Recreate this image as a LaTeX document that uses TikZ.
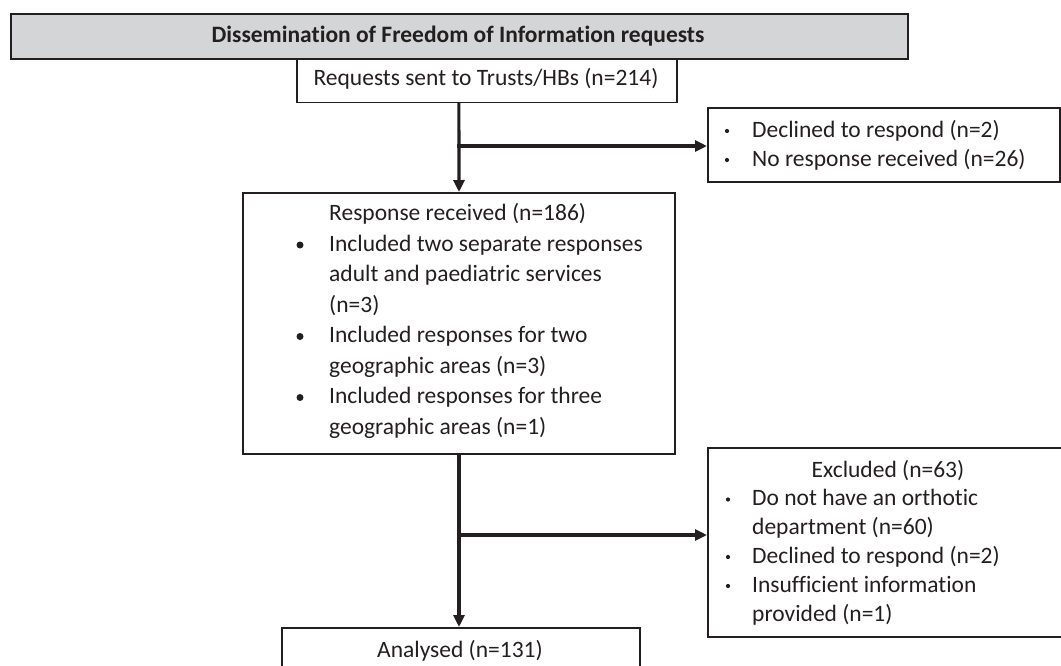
\documentclass[tikz,border=0pt]{standalone}
\usepackage{fontspec}
\setmainfont{Carlito}[Ligatures=NoCommon]
\usetikzlibrary{arrows.meta}
\definecolor{ink}{HTML}{231F20}
\definecolor{hdr}{HTML}{D4D5D6}
\tikzset{
  box/.style={draw=ink, line width=1.7pt, inner sep=0pt, anchor=north west},
  txt/.style={inner sep=0pt, anchor=mid west, text=ink, font=\fontsize{23.5}{28}\selectfont},
  ctxt/.style={inner sep=0pt, anchor=mid, text=ink, font=\fontsize{23.5}{28}\selectfont},
  smallbul/.style={circle, fill=ink, inner sep=0pt, minimum size=4.2pt},
  bigbul/.style={circle, fill=ink, inner sep=0pt, minimum size=7pt},
  arr/.style={draw=ink, line width=3.2pt, -{Triangle[length=12pt, width=11pt]}},
}
\begin{document}
\begin{tikzpicture}[x=1pt, y=-1pt]
\useasboundingbox (0,0) rectangle (1061,665);
% boxes
\node[box, fill=hdr, minimum width=897pt, minimum height=45pt] (title) at (10,13) {};
\node[box, minimum width=380pt, minimum height=44pt] (req) at (296,57.5) {};
\node[box, minimum width=352pt, minimum height=74pt] (decl) at (707,107) {};
\node[box, minimum width=432pt, minimum height=261pt] (resp) at (242,192) {};
\node[box, minimum width=360pt, minimum height=189pt] (excl) at (707,447) {};
\node[box, minimum width=358pt, minimum height=60pt] (anal) at (281,627) {};
% texts
\node[ctxt, font=\fontsize{23.5}{28}\bfseries] (titletxt) at (458,40) {Dissemination of Freedom of Information requests};
\node[ctxt] (reqtxt) at (486,83) {Requests sent to Trusts/HBs (n=214)};
\node[smallbul] (b1) at (727,131) {};
\node[txt] (d1) at (752,135) {Declined to respond (n=2)};
\node[smallbul] (b2) at (727,160) {};
\node[txt] (d2) at (752,164) {No response received (n=26)};
\node[txt] (r0) at (329,218) {Response received (n=186)};
\node[bigbul] (rb1) at (300,245) {};
\node[txt] (r1) at (329,249) {Included two separate responses};
\node[txt] (r2) at (329,279.5) {adult and paediatric services};
\node[txt] (r3) at (329,310) {(n=3)};
\node[bigbul] (rb2) at (300,336.5) {};
\node[txt] (r4) at (329,340.5) {Included responses for two};
\node[txt] (r5) at (329,371) {geographic areas (n=3)};
\node[bigbul] (rb3) at (300,397.5) {};
\node[txt] (r6) at (329,401.5) {Included responses for three};
\node[txt] (r7) at (329,432) {geographic areas (n=1)};
\node[ctxt] (e0) at (888,475) {Excluded (n=63)};
\node[smallbul] (eb1) at (728,499.5) {};
\node[txt] (e1) at (752,503.5) {Do not have an orthotic};
\node[txt] (e2) at (752,532) {department (n=60)};
\node[smallbul] (eb2) at (728,557) {};
\node[txt] (e3) at (752,561) {Declined to respond (n=2)};
\node[smallbul] (eb3) at (728,586) {};
\node[txt] (e4) at (752,590) {Insufficient information};
\node[txt] (e5) at (752,619) {provided (n=1)};
\node[ctxt] (atxt) at (460,655) {Analysed (n=131)};
% connectors
\coordinate (j1) at (459,146);
\coordinate (j2) at (459,535);
\draw[arr] (resp.north |- req.south) -- (resp.north -| j1);
\draw[arr, shorten <=-1.6pt] (j1) -- (j1 -| decl.west);
\draw[arr] (resp.south -| j2) -- (anal.north -| j2);
\draw[arr, shorten <=-1.6pt] (j2) -- (j2 -| excl.west);
\end{tikzpicture}
\end{document}
